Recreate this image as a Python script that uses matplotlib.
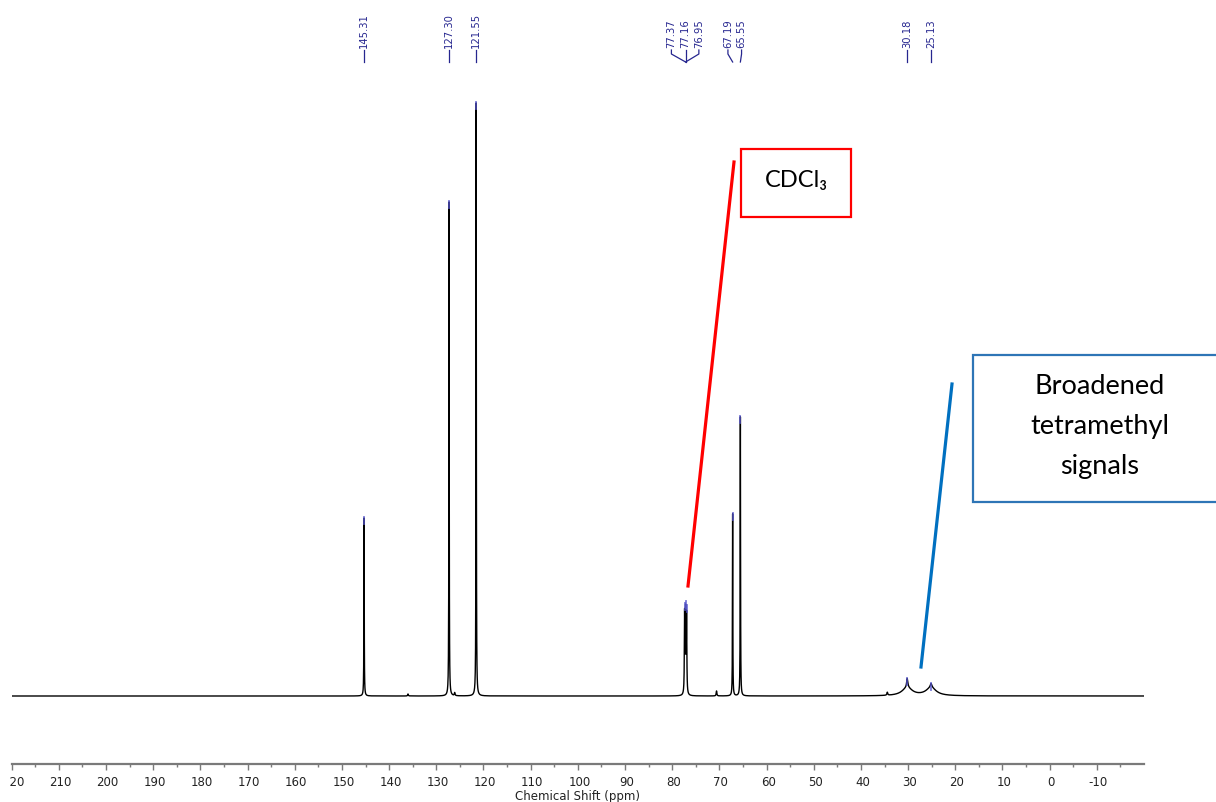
import numpy as np
import matplotlib.pyplot as plt
from matplotlib.lines import Line2D
from matplotlib.patches import Rectangle
from matplotlib.transforms import Bbox, TransformedBbox, ScaledTranslation, blended_transform_factory

# peaks: shift (ppm), height above baseline, half width (ppm)
peak_ppm = [145.31, 136.0, 127.30, 126.1, 121.55, 77.37, 77.16, 76.95, 70.6, 67.19, 65.55, 34.4,
            30.18, 30.18, 25.13, 25.13]
peak_height = [178, 2, 494, 3, 593, 80, 80, 78, 5, 182, 279, 3,
               8, 9, 8, 4]
peak_width = [0.04, 0.08, 0.04, 0.08, 0.04, 0.06, 0.06, 0.06, 0.08, 0.04, 0.04, 0.1,
              1.3, 0.15, 1.3, 0.2]

# picked peaks labelled at the top
label_ppm = [145.31, 127.30, 121.55, 77.37, 77.16, 76.95, 67.19, 65.55, 30.18, 25.13]
label_height = [178, 494, 593, 92, 94, 90, 182, 279, 17, 12]
label_shift = [0, 0, 0, 2.8, 0, -2.6, 1.0, -0.25, 0, 0]

major_ticks = list(range(220, -11, -10))
tick_labels = [str(t) for t in major_ticks]

navy = '#26268f'

fig = plt.figure(figsize=(12.16, 8.03), dpi=100)
ax = fig.add_axes([11.7 / 1216, 38 / 803, (1144 - 11.7) / 1216, 765 / 803])

ppm = np.arange(-20, 220.001, 0.005)
spec = np.zeros_like(ppm)
for x0, h, w in zip(peak_ppm, peak_height, peak_width):
    spec += h / (1 + ((ppm - x0) / w) ** 2)
ax.plot(ppm, spec, color='black', lw=1.0)

# peak pick markers
for x0, h in zip(label_ppm, label_height):
    ax.plot([x0, x0], [h - 6, h + 1], color='#5555cc', lw=1.3, alpha=0.8)

ax.set_xlim(220, -20)
ax.set_ylim(-68, 697)

# peak labels along the top
tr = blended_transform_factory(ax.transData, ax.transAxes)
ytxt = (765 - 48) / 765
ytop = (765 - 51) / 765
ymid = (765 - 55) / 765
ybot = (765 - 63) / 765
for x0, dx in zip(label_ppm, label_shift):
    xl = x0 + dx
    ax.text(xl, ytxt, '%.2f' % x0, transform=tr, rotation=90, ha='center', va='bottom',
            fontsize=7.2, color=navy, family='DejaVu Sans')
    if dx == 0:
        ax.plot([xl, xl], [ytop, ybot], transform=tr, color=navy, lw=0.9, clip_on=False)
    else:
        # triplet lines join at the centre line
        xend = 77.16 if abs(x0 - 77.16) < 0.3 else x0
        ax.plot([xl, xl, xend], [ytop, ymid, ybot], transform=tr, color=navy, lw=0.9, clip_on=False)

ax.set_xticks(major_ticks)
ax.set_xticklabels(tick_labels)
ax.set_xticks(np.arange(215, -20, -10), minor=True)
ax.set_yticks([])
for s in ['left', 'right', 'top']:
    ax.spines[s].set_visible(False)
ax.spines['bottom'].set_color('#7a7a7a')
ax.spines['bottom'].set_linewidth(1.6)
ax.tick_params(axis='x', which='major', length=4, width=1, color='#7a7a7a', pad=4,
               labelsize=8.5, labelcolor='#222222')
ax.tick_params(axis='x', which='minor', length=2.5, width=1, color='#7a7a7a')
ax.set_xlabel('Chemical Shift (ppm)', fontsize=8.5, color='#222222')
ax.xaxis.set_label_coords(0.5, -(790 - 765) / 765)

offset = ScaledTranslation(1.5 / 100, 0, fig.dpi_scale_trans)
for lab in ax.get_xticklabels():
    lab.set_transform(lab.get_transform() + offset)
first = ax.xaxis.get_major_ticks()[0].label1
first.set_clip_on(True)
first.set_clip_box(TransformedBbox(Bbox([[9.6 / 1216, 0], [1, 1]]), fig.transFigure))

# CDCl3 annotation
fig.add_artist(Line2D([734 / 1216, 688 / 1216], [1 - 163 / 803, 1 - 587 / 803],
                      transform=fig.transFigure, color='red', lw=2.3))
fig.add_artist(Rectangle((741 / 1216, 1 - 218 / 803), 110 / 1216, 68 / 803, transform=fig.transFigure,
                         facecolor='white', edgecolor='red', lw=1.6))
fig.text(796 / 1216, 1 - 181 / 803, 'CDCl₃', ha='center', va='center', fontsize=17,
         family=['Lato', 'DejaVu Sans'], color='black')

# broadened signals annotation
fig.add_artist(Line2D([952 / 1216, 921 / 1216], [1 - 385 / 803, 1 - 668 / 803],
                      transform=fig.transFigure, color='#0070C0', lw=2.3))
fig.add_artist(Rectangle((973 / 1216, 1 - 503 / 803), 260 / 1216, 147 / 803, transform=fig.transFigure,
                         facecolor='white', edgecolor='#2e75b6', lw=1.6))
fig.text(1100 / 1216, 1 - 427 / 803, 'Broadened\ntetramethyl\nsignals', ha='center', va='center',
         fontsize=19.5, linespacing=1.75, family=['Lato', 'DejaVu Sans'], color='black')

fig.savefig('out.png', dpi=100)
